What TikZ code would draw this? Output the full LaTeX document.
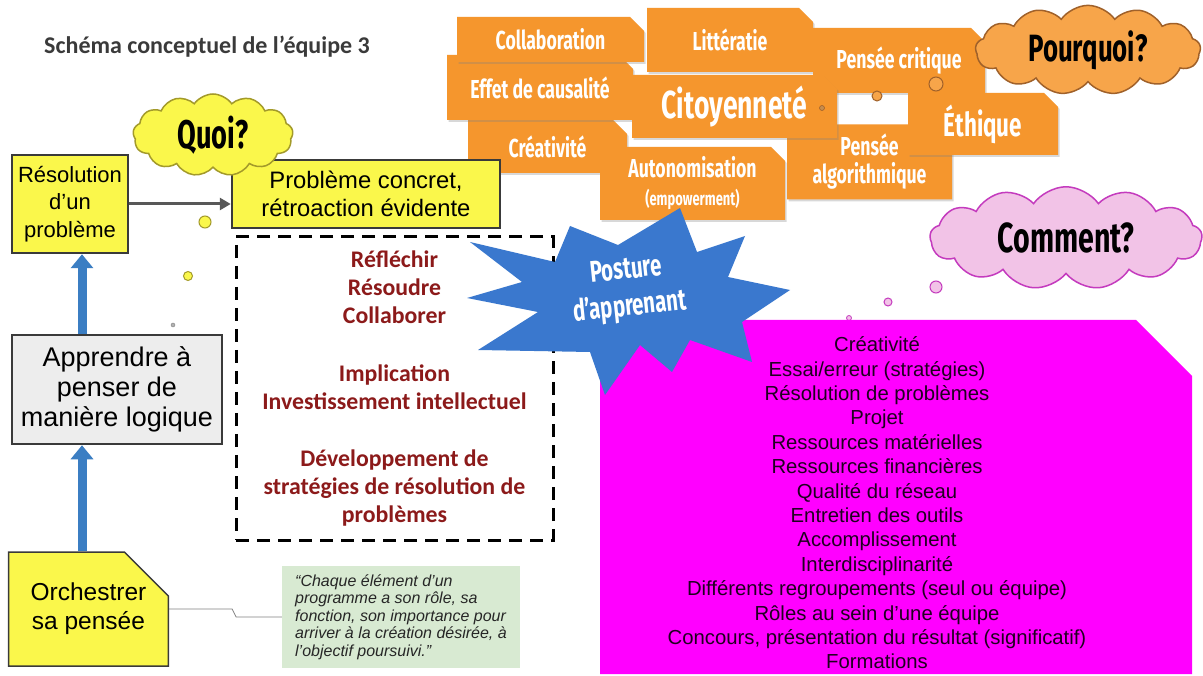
\documentclass[tikz,border=0pt]{standalone}
\usepackage{fontspec}
\setmainfont{Liberation Sans}
\newfontfamily\calfont{Carlito}
\newfontfamily\condfont[FakeStretch=0.68]{Fira Sans}
\usetikzlibrary{arrows.meta, shapes.misc, shapes.symbols, shadows}
\definecolor{boxyellow}{HTML}{FAF74B}
\definecolor{boxborder}{HTML}{3A3A3A}
\definecolor{tagorange}{HTML}{F5962D}
\definecolor{arrowblue}{HTML}{3B7EC3}
\definecolor{starblue}{HTML}{3A78CE}
\definecolor{listmagenta}{HTML}{FF00FF}
\definecolor{verbred}{HTML}{8C1A1A}
\definecolor{quotegreen}{HTML}{D8EAD2}
\definecolor{cloudpink}{HTML}{F2C3E7}
\definecolor{pinkline}{HTML}{C43BBE}
\definecolor{cloudorange}{HTML}{F7A54A}
\definecolor{brownline}{HTML}{A0612A}
\definecolor{oliveline}{HTML}{A39A2A}
\definecolor{logicgray}{HTML}{EDEDED}

\begin{document}
\begin{tikzpicture}[
    x=1pt, y=-1pt,
    box/.style={draw=boxborder, line width=2.5pt, fill=boxyellow, align=center, inner sep=0pt},
    tag/.style={chamfered rectangle, chamfered rectangle corners=north east, chamfered rectangle sep=7pt, fill=tagorange, text=white, align=center, inner sep=0pt, drop shadow={opacity=0.3, shadow xshift=1.5pt, shadow yshift=-2pt}, font=\condfont\bfseries\fontsize{26}{28}\selectfont},
    thought/.style={cloud, cloud puffs=13, cloud puff arc=110, aspect=2.4, line width=1.5pt, inner sep=0pt, text=black, font=\condfont\bfseries\fontsize{40}{44}\selectfont},
    bluearrow/.style={draw=arrowblue, line width=9pt, -{Triangle[width=22pt, length=14pt]}},
    grayarrow/.style={draw=boxborder!85, line width=3pt, -{Triangle[width=12pt, length=11pt]}}
]
    \useasboundingbox[fill=white] (0,0) rectangle (1203,676);

    \node[font=\calfont\bfseries\fontsize{24}{28}\selectfont, text=boxborder] (title) at (207,47) {Schéma conceptuel de l’équipe 3};

    \node[tag, minimum width=159pt, minimum height=53pt] (creat) at (547.5,146.5) {Créativité};
    \node[tag, minimum width=186pt, minimum height=65pt] (effet) at (540,87.5) {Effet de causalité};
    \node[tag, minimum width=187pt, minimum height=45pt] (collab) at (550.5,39.5) {Collaboration};
    \node[tag, minimum width=166pt, minimum height=64pt] (litt) at (730,40) {Littératie};
    \node[tag, minimum width=172pt, minimum height=65pt] (pcrit) at (899,60.5) {Pensée critique};
    \node[tag, minimum width=165pt, minimum height=75pt] (palgo) at (869.5,162) {Pensée\\algorithmique};
    \node[tag, minimum width=205pt, minimum height=63pt, font=\condfont\bfseries\fontsize{39}{42}\selectfont] (citoy) at (734.5,106.5) {Citoyenneté};
    \node[tag, minimum width=150pt, minimum height=62pt, font=\condfont\bfseries\fontsize{33}{36}\selectfont] (ethique) at (983,124) {Éthique};
    \node[tag, minimum width=185pt, minimum height=73pt] (auton) at (692.5,183.5) {Autonomisation\\{\fontsize{19}{22}\selectfont(empowerment)}};

    \filldraw[fill=tagorange!60!gray, draw=brownline, line width=0.6pt] (822,108) circle (2.5pt);
    \filldraw[fill=cloudorange, draw=brownline, line width=1pt] (877,96) circle (5pt);
    \filldraw[fill=cloudorange, draw=brownline, line width=1pt] (936,84) circle (7pt);
    \node[thought, fill=cloudorange, draw=brownline, minimum width=225pt, minimum height=85pt, font=\condfont\bfseries\fontsize{38}{42}\selectfont] (pourquoi) at (1088,50) {Pourquoi?};

    \filldraw[fill=cloudpink, draw=pinkline, line width=0.8pt] (849,318) circle (2.5pt);
    \filldraw[fill=cloudpink, draw=pinkline, line width=1pt] (888,302) circle (4pt);
    \filldraw[fill=cloudpink, draw=pinkline, line width=1pt] (936,287) circle (6pt);
    \node[thought, fill=cloudpink, draw=pinkline, minimum width=272pt, minimum height=88pt, font=\condfont\bfseries\fontsize{42}{46}\selectfont] (comment) at (1066,238) {Comment?};

    \node[box, minimum width=116pt, minimum height=98pt, font=\fontsize{22}{27.5}\selectfont] (resol) at (70,204) {Résolution\\d’un\\problème};
    \node[box, minimum width=268pt, minimum height=68pt, font=\fontsize{23.8}{28}\selectfont] (concret) at (366,194) {Problème concret,\\rétroaction évidente};
    \node[box, fill=logicgray, minimum width=210pt, minimum height=109pt, font=\fontsize{27}{30}\selectfont] (logique) at (117,389.5) {Apprendre à\\penser de\\manière logique};
    \node[box, chamfered rectangle, chamfered rectangle corners=north east, chamfered rectangle sep=22pt, line width=1.5pt, minimum width=153pt, minimum height=114pt, font=\fontsize{24.5}{29}\selectfont] (orch) at (88.5,609) {Orchestrer\\sa pensée};

    \filldraw[fill=boxyellow, draw=oliveline, line width=1pt] (205,222) circle (6pt);
    \filldraw[fill=boxyellow, draw=oliveline, line width=1pt] (188,276) circle (4.5pt);
    \filldraw[fill=gray!60, draw=gray] (173,325) circle (2pt);
    \node[thought, fill=boxyellow, draw=oliveline, minimum width=160pt, minimum height=82pt] (quoi) at (213,135) {Quoi?};

    \draw[grayarrow] (resol) -- (resol -| concret.west);
    \draw[bluearrow] ([xshift=-35pt]logique.north) -- ([xshift=-35pt]logique.north |- resol.south);
    \draw[bluearrow] ([xshift=-35pt]logique.north |- orch.north) -- ([xshift=-35pt]logique.south);

    \node[draw=black, line width=3pt, dash pattern=on 13pt off 8pt, minimum width=317pt, minimum height=303pt, align=center, text=verbred, font=\calfont\bfseries\fontsize{23.8}{28}\selectfont] (verbs) at (394.5,388.5) {Réfléchir\\Résoudre\\Collaborer\\[30pt]Implication\\Investissement intellectuel\\[29pt]Développement de\\stratégies de résolution de\\problèmes};

    \node[fill=quotegreen, minimum width=238pt, minimum height=98pt, align=left, inner sep=8pt, font=\itshape\fontsize{16}{17.5}\selectfont, text=black!85] (quote) at (401,617) {“Chaque élément d’un\\programme a son rôle, sa\\fonction, son importance pour\\arriver à la création désirée, à\\l’objectif poursuivi.”};
    \draw[gray, line width=0.8pt] (orch.east) -- ++(63,0) -- ++(4,8) -- (quote.west);

    \fill[listmagenta] (600,320) -- (1136,320) -- (1192,376) -- (1192,674) -- (600,674) -- cycle;
    \node[align=center, text=black!88!listmagenta, font=\fontsize{20.3}{24.4}\selectfont] (howlist) at (877,503) {Créativité\\Essai/erreur (stratégies)\\Résolution de problèmes\\Projet\\Ressources matérielles\\Ressources financières\\Qualité du réseau\\Entretien des outils\\Accomplissement\\Interdisciplinarité\\Différents regroupements (seul ou équipe)\\Rôles au sein d’une équipe\\Concours, présentation du résultat (significatif)\\Formations};

    \fill[starblue] (680,208) -- (697,252) -- (745,236) -- (728,277) -- (790,290) -- (742,322) -- (752,362) -- (690,340) -- (672,372) -- (640,345) -- (605,395) -- (590,352) -- (478,350) -- (538,312) -- (467,298) -- (522,282) -- (470,242) -- (555,262) -- (570,226) -- (618,245) -- cycle;
    \node[rotate=6, align=center, text=white, font=\condfont\bfseries\fontsize{30}{37}\selectfont] (posture) at (628,290) {Posture\\d’apprenant};
\end{tikzpicture}
\end{document}
